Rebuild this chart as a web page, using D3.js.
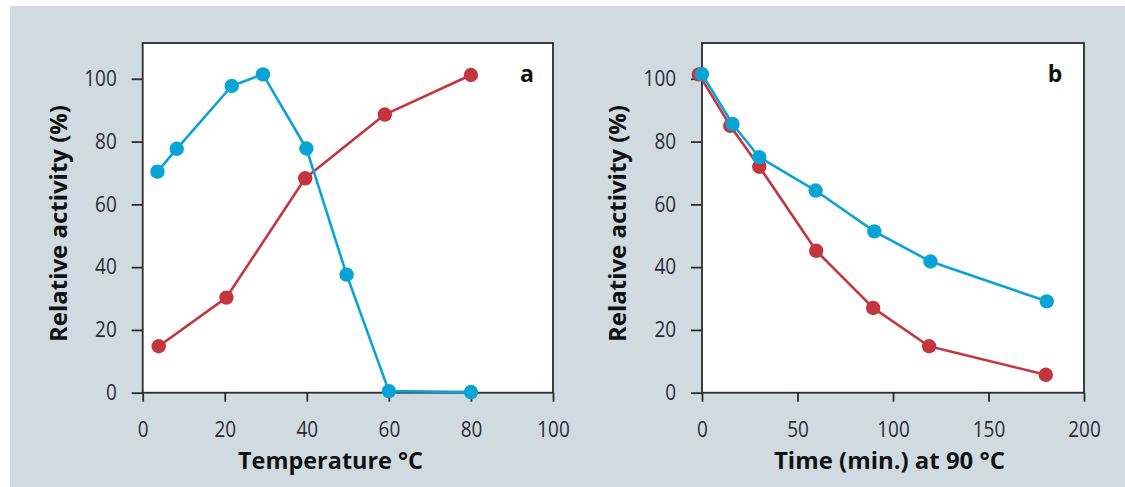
<!DOCTYPE html>
<html>
<head>
<meta charset="utf-8">
<script src="https://cdn.jsdelivr.net/npm/d3@7"></script>
<style>
  html, body { margin: 0; padding: 0; background: #ffffff; }
  svg { display: block; }
  text { font-family: "Open Sans", "Noto Sans", sans-serif; }
</style>
</head>
<body>
<svg id="chart" width="1125" height="487"></svg>
<script>
// ---- Data ----
// Panel a: temperature (°C) vs relative activity (%)
const blueA_temp = [3.6, 8.3, 21.7, 29.3, 39.9, 49.7, 60, 80];
const blueA_act  = [70.4, 77.7, 97.7, 101.4, 77.8, 37.6, 0.5, 0.2];
const redA_temp  = [3.9, 20.4, 39.6, 59.0, 80];
const redA_act   = [14.8, 30.3, 68.3, 88.6, 101.2];

// Panel b: time (min.) at 90 °C vs relative activity (%)
const blueB_time = [0, 16, 30, 59.5, 90.2, 119.6, 180.5];
const blueB_act  = [101.5, 85.6, 75.0, 64.4, 51.4, 41.8, 29.1];
const redB_time  = [-1.6, 14.8, 30, 59.8, 89.6, 118.9, 180];
const redB_act   = [101.4, 85.0, 72.0, 45.2, 27.0, 14.8, 5.7];

// Axes
const yTicks  = [0, 20, 40, 60, 80, 100];
const yMax    = 111.4;
const xTicksA = [0, 20, 40, 60, 80, 100];
const xTicksB = [0, 50, 100, 150, 200];
const xTitleA = "Temperature °C";
const xTitleB = "Time (min.) at 90 °C";
const yTitle  = "Relative activity (%)";
const panelLabels = ["a", "b"];

(function () {
// ---- Styles ----
const BLUE = "#0aa3d5";
const RED  = "#c3363f";
const BG   = "#d0dbe1";
const AXIS = "#2b2b2b";

const svg = d3.select("#chart");
svg.append("rect").attr("x", 10).attr("y", 6).attr("width", 1115).attr("height", 481).attr("fill", BG);

const plotTop = 43, plotBottom = 392.7;
const y = d3.scaleLinear().domain([0, yMax]).range([plotBottom, plotTop]);

const panels = [
  { xDomain: [0, 100], range: [142.7, 553], ticks: xTicksA, title: xTitleA, titleX: 330.5, titleW: 185,
    yTitleX: 67, label: panelLabels[0], labelX: 527,
    series: [
      { xs: redA_temp, ys: redA_act, color: RED },
      { xs: blueA_temp, ys: blueA_act, color: BLUE }
    ] },
  { xDomain: [0, 200], range: [702, 1084], ticks: xTicksB, title: xTitleB, titleX: 889.5, titleW: 231,
    yTitleX: 626, label: panelLabels[1], labelX: 1055,
    series: [
      { xs: redB_time, ys: redB_act, color: RED },
      { xs: blueB_time, ys: blueB_act, color: BLUE }
    ] }
];

panels.forEach(p => {
  const x = d3.scaleLinear().domain(p.xDomain).range(p.range);
  const g = svg.append("g");

  // plot box
  g.append("rect")
    .attr("x", x(p.xDomain[0])).attr("y", y(yMax))
    .attr("width", x(p.xDomain[1]) - x(p.xDomain[0]))
    .attr("height", y(0) - y(yMax))
    .attr("fill", "#ffffff").attr("stroke", AXIS).attr("stroke-width", 1.8);

  // y axis
  const ya = g.append("g").attr("transform", `translate(${x(p.xDomain[0])},0)`)
    .call(d3.axisLeft(y).tickValues(yTicks).tickSize(11).tickPadding(15).tickSizeOuter(0));
  ya.select(".domain").remove();
  ya.selectAll(".tick line").attr("stroke", AXIS).attr("stroke-width", 1.8);
  ya.selectAll(".tick text").attr("font-size", 21).attr("fill", "#2a2a35")
    .attr("font-family", "'Open Sans', sans-serif");

  // x axis
  const xa = g.append("g").attr("transform", `translate(0,${y(0)})`)
    .call(d3.axisBottom(x).tickValues(p.ticks).tickSize(9).tickPadding(20).tickSizeOuter(0));
  xa.select(".domain").remove();
  xa.selectAll(".tick line").attr("stroke", AXIS).attr("stroke-width", 1.8);
  xa.selectAll(".tick text").attr("font-size", 21).attr("fill", "#2a2a35")
    .attr("font-family", "'Open Sans', sans-serif");

  [ya, xa].forEach(ax => ax.selectAll(".tick text").each(function() {
    const w = this.getComputedTextLength();
    d3.select(this).attr("textLength", w * 0.9).attr("lengthAdjust", "spacingAndGlyphs");
  }));

  // series
  const line = d3.line().x(d => x(d[0])).y(d => y(d[1]));
  p.series.forEach(s => {
    const pts = s.xs.map((v, i) => [v, s.ys[i]]);
    g.append("path").datum(pts).attr("d", line)
      .attr("fill", "none").attr("stroke", s.color).attr("stroke-width", 2.6)
      .attr("stroke-linejoin", "round");
    g.selectAll(null).data(pts).enter().append("circle")
      .attr("cx", d => x(d[0])).attr("cy", d => y(d[1])).attr("r", 7.2)
      .attr("fill", s.color);
  });

  // x title
  g.append("text").attr("x", p.titleX).attr("y", 469)
    .attr("text-anchor", "middle").attr("font-size", 24).attr("font-weight", 700)
    .attr("fill", "#111").attr("textLength", p.titleW).attr("lengthAdjust", "spacingAndGlyphs")
    .text(p.title);

  // y title
  g.append("text").attr("transform", `translate(${p.yTitleX},223.5) rotate(-90)`)
    .attr("text-anchor", "middle").attr("font-size", 24).attr("font-weight", 700)
    .attr("fill", "#111").attr("textLength", 237).attr("lengthAdjust", "spacingAndGlyphs")
    .text(yTitle);

  // panel label
  g.append("text").attr("x", p.labelX).attr("y", 81.7)
    .attr("text-anchor", "middle").attr("font-size", 23).attr("font-weight", 700)
    .attr("fill", "#111").text(p.label);
});
})();
</script>
</body>
</html>
